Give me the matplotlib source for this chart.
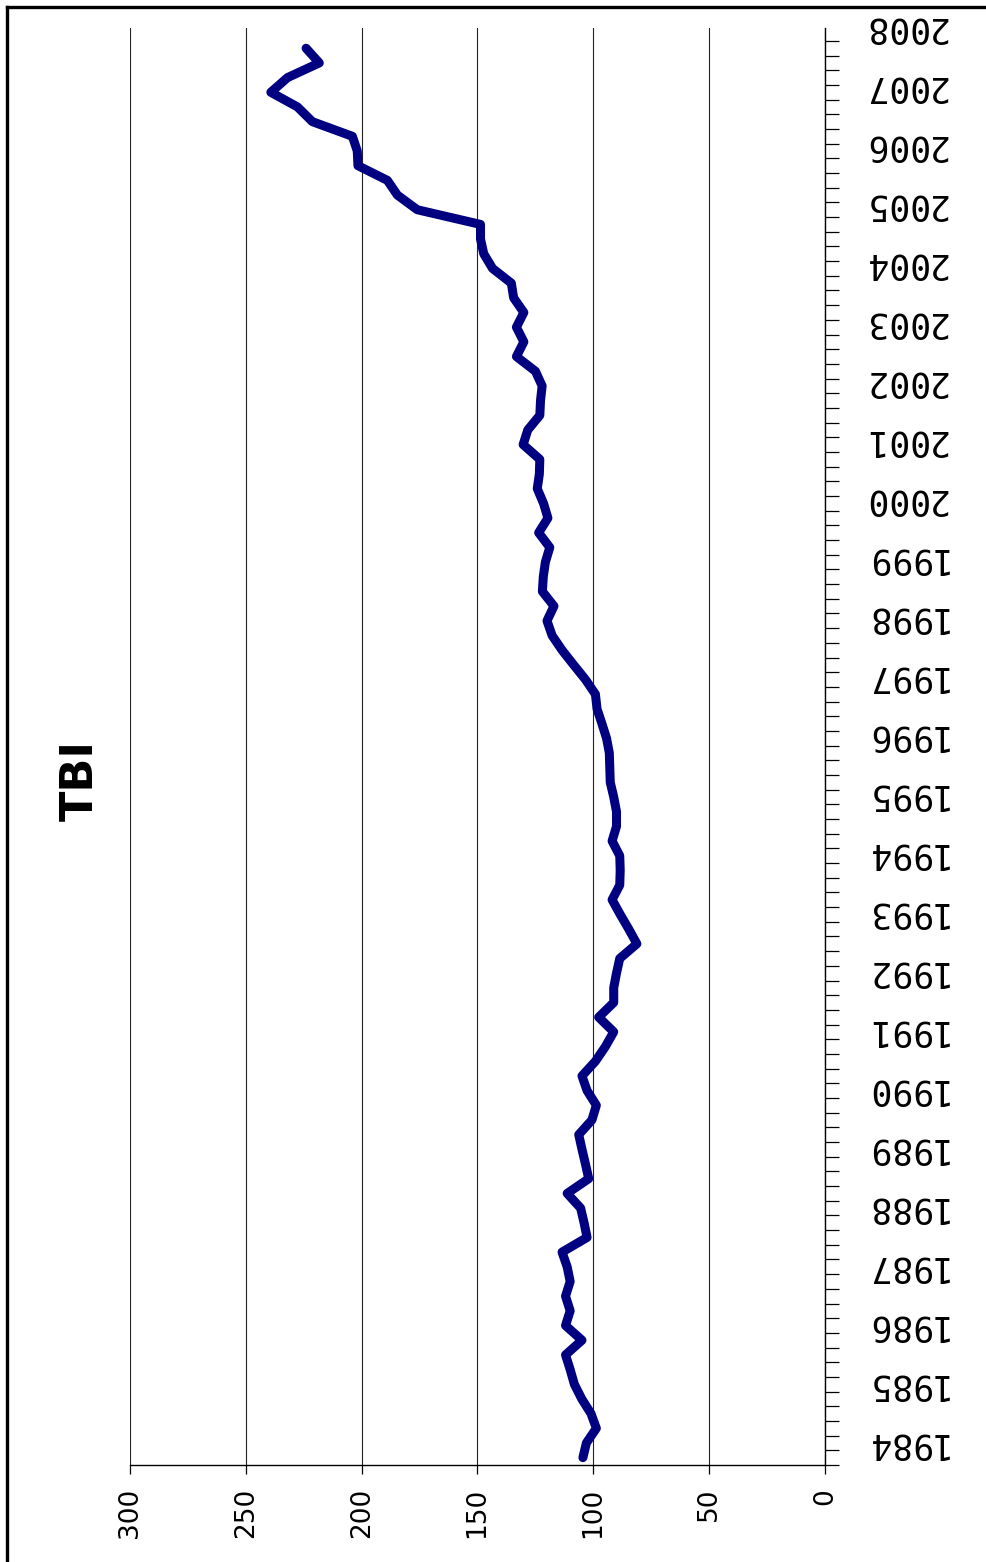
import matplotlib
matplotlib.use("Agg")
import matplotlib.pyplot as plt
from matplotlib.lines import Line2D
from matplotlib.ticker import FixedLocator, NullFormatter

# Quarterly TBI index, 1984Q1 .. 2008Q1
tbi = [104.5, 103.0, 98.7, 101.0, 105.0, 108.2, 110.0, 112.0, 104.9, 112.0,
       110.0, 112.0, 110.0, 111.3, 113.5, 102.7, 104.0, 105.5, 111.3, 102.0,
       103.4, 104.9, 106.3, 100.6, 98.7, 102.7, 104.9, 99.1, 94.8, 91.2,
       97.7, 91.2, 91.2, 90.0, 88.6, 81.2, 84.7, 88.4, 91.9, 88.6,
       88.4, 88.6, 91.9, 90.0, 90.0, 91.2, 92.7, 92.9, 93.1, 94.3,
       96.3, 98.4, 99.1, 103.4, 108.5, 113.5, 117.8, 120.0, 117.0, 122.0,
       121.6, 120.7, 118.8, 123.6, 119.6, 121.5, 124.2, 123.3, 123.1, 130.3,
       128.3, 123.1, 122.8, 122.1, 125.0, 133.2, 130.0, 133.2, 130.0, 134.4,
       135.4, 143.5, 147.3, 148.7, 148.7, 176.0, 184.6, 188.9, 201.6, 201.9,
       204.0, 221.3, 227.7, 239.2, 232.0, 218.3, 224.0]
years = list(range(1984, 2009))
value_ticks = [0, 50, 100, 150, 200, 250, 300]
title = "TBI"

W, H = 986, 1562
fig = plt.figure(figsize=(W / 100, H / 100), dpi=100)
left, right = 130 / W, 825 / W
bottom, top = (H - 1465) / H, (H - 28) / H
ax = fig.add_axes([left, bottom, right - left, top - bottom])

n = len(tbi)
idx = list(range(n))
ax.plot(tbi, idx, color="#000080", lw=6.5, solid_capstyle="round",
        solid_joinstyle="round", zorder=3)

ax.set_xlim(300, 0)
ax.set_ylim(-0.5, n - 0.5)

# value axis (bottom)
ax.set_xticks(value_ticks)
ax.set_xticklabels([str(v) for v in value_ticks], rotation=90, fontsize=19,
                   family="DejaVu Sans")
ax.tick_params(axis="x", direction="out", length=6.5, width=0.9, pad=10,
               color="black")
ax.xaxis.grid(True, color="#222222", lw=0.8)
ax.set_axisbelow(True)

# time axis (right side)
ax.yaxis.tick_right()
ax.yaxis.set_minor_locator(FixedLocator([i - 0.5 for i in range(n + 1)]))
ax.yaxis.set_minor_formatter(NullFormatter())
ax.set_yticks([0.97 + 4.017 * k for k in range(len(years))])
ax.set_yticklabels([str(y) for y in years], rotation=180, fontsize=25,
                   family="DejaVu Sans Mono", va="center")
ax.tick_params(axis="y", which="major", length=0, pad=27)
ax.tick_params(axis="y", which="minor", direction="out", length=10,
               width=0.9, color="black")

for s in ["left", "top"]:
    ax.spines[s].set_visible(False)
for s in ["right", "bottom"]:
    ax.spines[s].set_linewidth(1.0)
    ax.spines[s].set_color("black")

fig.text(80 / W, 1 - 780 / H, title, rotation=90, fontsize=32,
         fontweight="bold", ha="center", va="center", family="DejaVu Sans")

# chart-area border (top and left)
fig.add_artist(Line2D([6.5 / W, 1.0], [1 - 6.5 / H, 1 - 6.5 / H],
                      transform=fig.transFigure, color="black", lw=2.4))
fig.add_artist(Line2D([6.5 / W, 6.5 / W], [0.0, 1 - 6.5 / H],
                      transform=fig.transFigure, color="black", lw=2.4))

fig.savefig("out.png", dpi=100, facecolor="white")
